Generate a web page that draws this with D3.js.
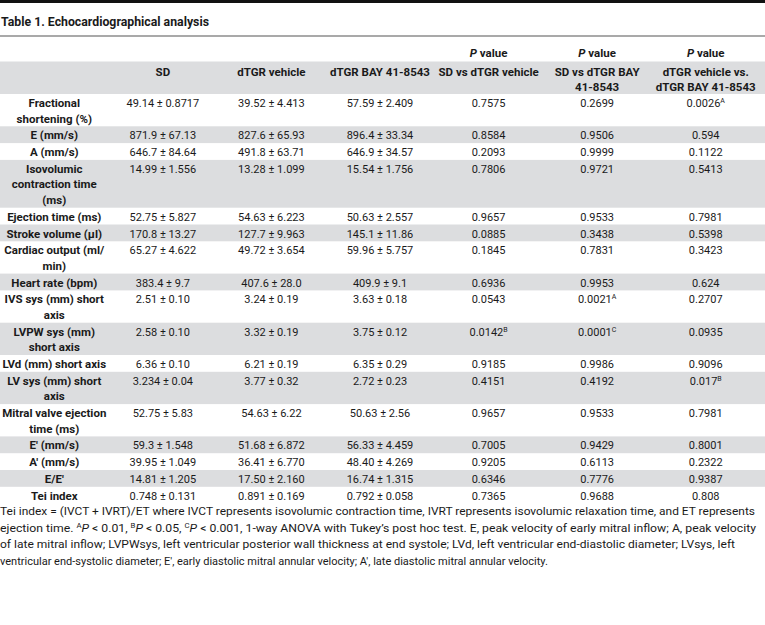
<!DOCTYPE html>
<html><head><meta charset="utf-8">
<script src="https://cdn.jsdelivr.net/npm/d3@7"></script>
<style>
html,body{margin:0;padding:0;background:#fff;}
svg text{font-family:Roboto,"Open Sans",sans-serif;fill:#1a1a1a;}
</style></head>
<body><svg id="t" width="765" height="625"></svg>
<script>
const title = "Table 1. Echocardiographical analysis";
const colHeads = [[""],["SD"],["dTGR vehicle"],["dTGR BAY 41-8543"],["SD vs dTGR vehicle"],["SD vs dTGR BAY","41-8543"],["dTGR vehicle vs.","dTGR BAY 41-8543"]];
const pHead = "P value";
const labels = [["Fractional","shortening (%)"],["E (mm/s)"],["A (mm/s)"],["Isovolumic","contraction time","(ms)"],["Ejection time (ms)"],["Stroke volume (µl)"],["Cardiac output (ml/","min)"],["Heart rate (bpm)"],["IVS sys (mm) short","axis"],["LVPW sys (mm)","short axis"],["LVd (mm) short axis"],["LV sys (mm) short","axis"],["Mitral valve ejection","time (ms)"],["E′ (mm/s)"],["A′ (mm/s)"],["E/E′"],["Tei index"]];
const sd  = ["49.14 ± 0.8717","871.9 ± 67.13","646.7 ± 84.64","14.99 ± 1.556","52.75 ± 5.827","170.8 ± 13.27","65.27 ± 4.622","383.4 ± 9.7","2.51 ± 0.10","2.58 ± 0.10","6.36 ± 0.10","3.234 ± 0.04","52.75 ± 5.83","59.3 ± 1.548","39.95 ± 1.049","14.81 ± 1.205","0.748 ± 0.131"];
const veh = ["39.52 ± 4.413","827.6 ± 65.93","491.8 ± 63.71","13.28 ± 1.099","54.63 ± 6.223","127.7 ± 9.963","49.72 ± 3.654","407.6 ± 28.0","3.24 ± 0.19","3.32 ± 0.19","6.21 ± 0.19","3.77 ± 0.32","54.63 ± 6.22","51.68 ± 6.872","36.41 ± 6.770","17.50 ± 2.160","0.891 ± 0.169"];
const bay = ["57.59 ± 2.409","896.4 ± 33.34","646.9 ± 34.57","15.54 ± 1.756","50.63 ± 2.557","145.1 ± 11.86","59.96 ± 5.757","409.9 ± 9.1","3.63 ± 0.18","3.75 ± 0.12","6.35 ± 0.29","2.72 ± 0.23","50.63 ± 2.56","56.33 ± 4.459","48.40 ± 4.269","16.74 ± 1.315","0.792 ± 0.058"];
const p1 = ["0.7575","0.8584","0.2093","0.7806","0.9657","0.0885","0.1845","0.6936","0.0543","0.0142^B","0.9185","0.4151","0.9657","0.7005","0.9205","0.6346","0.7365"];
const p2 = ["0.2699","0.9506","0.9999","0.9721","0.9533","0.3438","0.7831","0.9953","0.0021^A","0.0001^C","0.9986","0.4192","0.9533","0.9429","0.6113","0.7776","0.9688"];
const p3 = ["0.0026^A","0.594","0.1122","0.5413","0.7981","0.5398","0.3423","0.624","0.2707","0.0935","0.9096","0.017^B","0.7981","0.8001","0.2322","0.9387","0.808"];
const footLines = [
 "Tei index = (IVCT + IVRT)/ET where IVCT represents isovolumic contraction time, IVRT represents isovolumic relaxation time, and ET represents",
 "ejection time. ^A*P* < 0.01, ^B*P* < 0.05, ^C*P* < 0.001, 1-way ANOVA with Tukey’s post hoc test. E, peak velocity of early mitral inflow; A, peak velocity",
 "of late mitral inflow; LVPWsys, left ventricular posterior wall thickness at end systole; LVd, left ventricular end-diastolic diameter; LVsys, left",
 "ventricular end-systolic diameter; E′, early diastolic mitral annular velocity; A′, late diastolic mitral annular velocity."
];
const footWidths = [755, 756, 735, null];

const W = 765;
const svg = d3.select("#t");
const x = d3.scaleBand().domain(d3.range(7)).range([0, 760]);
const cx = i => x(i) + x.bandwidth()/2;

// top bar and title
svg.append("rect").attr("x",0).attr("y",0).attr("width",W).attr("height",3).attr("fill","#111");
svg.append("text").attr("x",1).attr("y",26).attr("font-size",13).attr("font-weight",700)
  .attr("textLength",208).attr("lengthAdjust","spacingAndGlyphs").text(title);
svg.append("rect").attr("x",0).attr("y",35.5).attr("width",W).attr("height",1).attr("fill","#555");

// rows layout
const lh = 15.5, pad = 1.3;
const rows = labels.map((l,i)=>({label:l, vals:[sd[i],veh[i],bay[i],p1[i],p2[i],p3[i]], n:l.length}));
let y0 = 94;
rows.forEach(r=>{ r.top = y0; r.h = pad + r.n*lh; y0 += r.h; });

// header band
svg.append("rect").attr("x",0).attr("y",61.5).attr("width",W).attr("height",94-61.5).attr("fill","#dcdddf");
[4,5,6].forEach(i=>{
  const t = svg.append("text").attr("x",cx(i)).attr("y",57).attr("text-anchor","middle")
    .attr("font-size",11.5).attr("font-weight",700);
  t.append("tspan").attr("font-style","italic").text("P");
  t.append("tspan").text(" value");
});
colHeads.forEach((h,i)=>{
  h.forEach((ln,k)=>{
    svg.append("text").attr("x",cx(i)).attr("y",75.5+k*lh).attr("text-anchor","middle")
      .attr("font-size",11.5).attr("font-weight",700).text(ln);
  });
});

// row backgrounds
const g = svg.append("g");
g.selectAll("rect.row").data(rows).join("rect")
  .attr("x",0).attr("y",d=>d.top).attr("width",W).attr("height",d=>d.h)
  .attr("fill",(d,i)=> i%2===1 ? "#dcdddf" : "none");

function addVal(sel, str){
  const [v,s] = str.split("^");
  sel.append("tspan").text(v);
  if(s) sel.append("tspan").attr("font-size",7).attr("dy",-4).text(s);
}

rows.forEach((r,i)=>{
  r.label.forEach((ln,k)=>{
    g.append("text").attr("x",cx(0)).attr("y",r.top+13+k*lh).attr("text-anchor","middle")
      .attr("font-size",11.5).attr("font-weight",700).text(ln);
  });
  r.vals.forEach((v,j)=>{
    const t = g.append("text").attr("x",cx(j+1)).attr("y",r.top+13).attr("text-anchor","middle")
      .attr("font-size",11);
    addVal(t, v);
  });
});

// footnote
footLines.forEach((ln,i)=>{
  const t = svg.append("text").attr("x",0).attr("y",515+i*16.5).attr("font-size",11);
  if(footWidths[i]) t.attr("textLength",footWidths[i]).attr("lengthAdjust","spacingAndGlyphs");
  const parts = ln.split(/(\^[A-C]|\*P\*)/).filter(s=>s.length);
  let sup = false;
  parts.forEach(p=>{
    if(p.startsWith("^")){ t.append("tspan").attr("font-size",7).attr("dy",-4).text(p.slice(1)); sup=true; }
    else if(p==="*P*"){ t.append("tspan").attr("font-style","italic").attr("dy",sup?4:0).text("P"); sup=false; }
    else { t.append("tspan").attr("dy",sup?4:0).text(p); sup=false; }
  });
});
</script></body></html>
